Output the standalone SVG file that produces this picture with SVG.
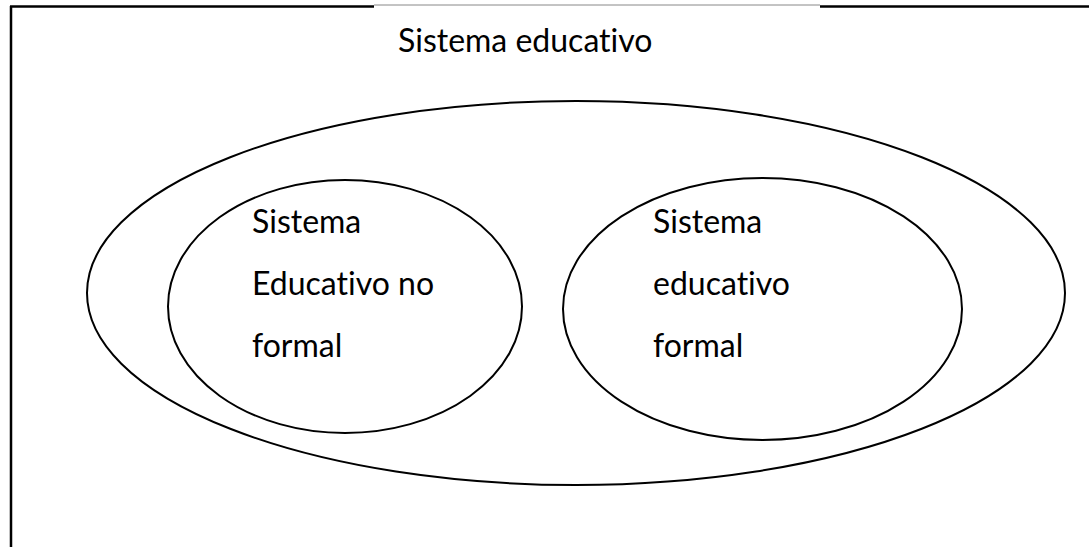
<svg xmlns="http://www.w3.org/2000/svg" width="1089" height="547" viewBox="0 0 1089 547">
<style>
.t{font-family:Lato,"Open Sans","Liberation Sans",sans-serif;font-size:32px;fill:#000;font-variant-ligatures:none}
.e{fill:none;stroke:#000;stroke-width:2}
</style>
<rect width="1089" height="547" fill="#fff"/>
<g id="frame">
<line x1="374" y1="5" x2="820" y2="5" stroke="#888" stroke-width="1"/>
<line x1="10" y1="6.5" x2="374" y2="6.5" stroke="#000" stroke-width="2.5"/>
<line x1="820" y1="6.5" x2="1089" y2="6.5" stroke="#000" stroke-width="2.5"/>
<line x1="11" y1="6" x2="11" y2="547" stroke="#000" stroke-width="2.5"/>
</g>
<g id="title"><text class="t" x="398" y="52">Sistema educativo</text></g>
<g id="outer"><ellipse class="e" cx="576" cy="293" rx="489" ry="192"/></g>
<g id="noformal">
<ellipse class="e" cx="345" cy="306.5" rx="177" ry="126.5"/>
<text class="t" x="252" y="233">Sistema</text>
<text class="t" x="252" y="295">Educativo no</text>
<text class="t" x="252" y="357">formal</text>
</g>
<g id="formal">
<ellipse class="e" cx="762.5" cy="309" rx="199.5" ry="131"/>
<text class="t" x="653" y="233">Sistema</text>
<text class="t" x="653" y="295">educativo</text>
<text class="t" x="653" y="357">formal</text>
</g>
<g id="connectors"/>
</svg>
